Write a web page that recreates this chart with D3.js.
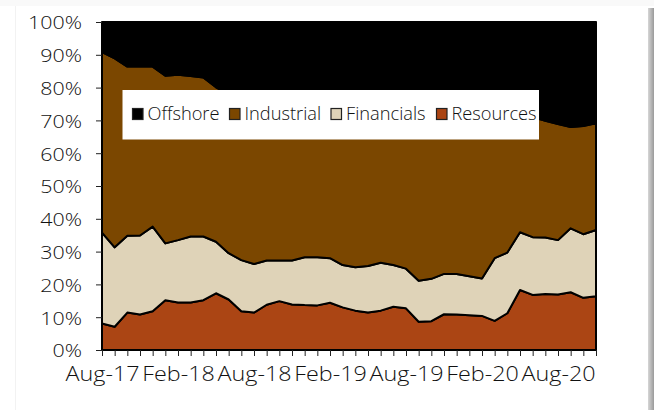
<!DOCTYPE html>
<html><head><meta charset="utf-8">
<script src="https://cdn.jsdelivr.net/npm/d3@7"></script>
<style>
html,body{margin:0;padding:0;background:#fff;}
svg{display:block;}
text{font-family:"Open Sans", "Noto Sans", sans-serif;font-weight:300;fill:#111;}
</style></head>
<body>
<svg id="c" width="654" height="410"></svg>
<script>
const months = ["Aug-17","Sep-17","Oct-17","Nov-17","Dec-17","Jan-18","Feb-18","Mar-18","Apr-18","May-18","Jun-18","Jul-18","Aug-18","Sep-18","Oct-18","Nov-18","Dec-18","Jan-19","Feb-19","Mar-19","Apr-19","May-19","Jun-19","Jul-19","Aug-19","Sep-19","Oct-19","Nov-19","Dec-19","Jan-20","Feb-20","Mar-20","Apr-20","May-20","Jun-20","Jul-20","Aug-20","Sep-20","Oct-20","Nov-20"];
const tickLabels = ["Aug-17","Feb-18","Aug-18","Feb-19","Aug-19","Feb-20","Aug-20"];
const seriesNames = ["Resources","Financials","Industrial","Offshore"];
const legendOrder = ["Offshore","Industrial","Financials","Resources"];
const resources  = [8.1,7.1,11.4,10.8,11.8,15.2,14.5,14.5,15.2,17.3,15.4,11.8,11.4,13.8,14.9,13.9,13.7,13.6,14.4,13.0,12.0,11.4,12.0,13.2,12.7,8.6,8.8,10.9,10.8,10.6,10.4,8.9,11.2,18.3,16.8,17.1,16.9,17.6,15.9,16.4];
const financials = [27.7,24.2,23.4,24.1,25.8,17.3,19.0,20.1,19.4,15.7,14.1,15.6,14.8,13.5,12.4,13.4,14.6,14.7,13.6,12.9,13.2,14.2,14.6,12.7,12.1,12.5,12.9,12.3,12.4,11.9,11.4,19.1,18.5,17.6,17.6,17.2,16.6,19.5,19.4,20.2];
const industrial = [55.0,57.6,51.6,51.5,48.8,51.1,50.4,48.9,48.5,47.1,48.5,49.6,49.8,48.7,47.7,47.7,46.7,45.7,46.0,48.1,47.8,47.4,46.4,47.1,47.2,50.9,50.3,48.8,48.8,49.5,50.2,44.0,42.3,35.6,36.6,35.6,35.4,30.9,33.0,32.5];
const offshore   = [9.2,11.1,13.6,13.6,13.6,16.4,16.1,16.5,16.9,19.9,22.0,23.0,24.0,24.0,25.0,25.0,25.0,26.0,26.0,26.0,27.0,27.0,27.0,27.0,28.0,28.0,28.0,28.0,28.0,28.0,28.0,28.0,28.0,28.5,29.0,30.1,31.1,32.0,31.7,30.9];
const yTicks = [0,0.1,0.2,0.3,0.4,0.5,0.6,0.7,0.8,0.9,1.0];
const colors = {Offshore:"#000000",Industrial:"#7b4700",Financials:"#dfd3b8",Resources:"#ab4514"};

const table = months.map((m,i)=>({month:m,Resources:resources[i],Financials:financials[i],Industrial:industrial[i],Offshore:offshore[i]}));
const stack = d3.stack().keys(seriesNames).offset(d3.stackOffsetExpand);
const layers = stack(table);

const svg = d3.select("#c");
const defs = svg.append("defs");
const g1 = defs.append("linearGradient").attr("id","sh").attr("x1","0").attr("x2","1");
g1.append("stop").attr("offset","0").attr("stop-color","#d6d6d6");
g1.append("stop").attr("offset","1").attr("stop-color","#9a9a9a");
svg.append("rect").attr("x",0).attr("y",0).attr("width",654).attr("height",6).attr("fill","#f9f9f9");
svg.append("rect").attr("x",648).attr("y",8).attr("width",6).attr("height",402).attr("fill","url(#sh)");
svg.append("line").attr("x1",15.5).attr("x2",15.5).attr("y1",6).attr("y2",410).attr("stroke","#f2f2f2");

const L=102, R=596, T=22, B=350;
const x = d3.scalePoint().domain(months).range([L,R]);
const y = d3.scaleLinear().domain([0,1]).range([B,T]);

svg.append("rect").attr("x",L).attr("y",T).attr("width",R-L+0.5).attr("height",B-T).attr("fill","none").attr("stroke","#a0a0a0").attr("stroke-width",1);

const area = d3.area().x(d=>x(d.data.month)).y0(d=>y(d[0])).y1(d=>y(d[1]));
svg.append("g").selectAll("path").data(layers).join("path")
  .attr("d",area).attr("fill",d=>colors[d.key])
  .attr("stroke","#000").attr("stroke-width",2).attr("stroke-linejoin","round");

function stretch(sel, refText, refWidth){
  let nat = null;
  sel.each(function(){ if(this.textContent===refText) nat=this.getComputedTextLength(); });
  if(!nat) return;
  const f = refWidth/nat;
  sel.each(function(){ const w=this.getComputedTextLength(); if(w>0){ d3.select(this).attr("textLength",w*f).attr("lengthAdjust","spacingAndGlyphs"); } });
}

const yAxis = d3.axisLeft(y).tickValues(yTicks).tickFormat(d3.format(".0%")).tickSize(6).tickPadding(14);
const gy = svg.append("g").attr("transform",`translate(${L},0)`).call(yAxis);
gy.select(".domain").attr("stroke","#000").attr("stroke-width",2).attr("d",`M0,${T}V${B}`);
gy.selectAll(".tick line").attr("stroke","#222");
gy.selectAll("text").attr("font-size",19).attr("font-family",null).attr("fill","#111").attr("dy","0.36em");
stretch(gy.selectAll("text"),"100%",54);

const xAxis = d3.axisBottom(x).tickSize(6).tickPadding(10).tickFormat(d=>tickLabels.includes(d)?d:"");
const gx = svg.append("g").attr("transform",`translate(0,${B})`).call(xAxis);
gx.select(".domain").attr("stroke","#000").attr("stroke-width",1.5).attr("d",`M${L},0H${R}`);
gx.selectAll(".tick line").attr("stroke","#222");
gx.selectAll("text").attr("font-size",21).attr("font-family",null).attr("fill","#111").attr("dy","0.72em");
stretch(gx.selectAll("text"),"Aug-17",74);

const lg = svg.append("g");
lg.append("rect").attr("x",122.5).attr("y",90).attr("width",416.5).attr("height",49.5).attr("fill","#fff");
const legX = [132.5,229.5,331,436.5];
legendOrder.forEach((k,i)=>{
  lg.append("rect").attr("x",legX[i]).attr("y",108.5).attr("width",10.5).attr("height",11).attr("fill",colors[k]).attr("stroke","#222").attr("stroke-width",1.2);
  lg.append("text").attr("x",legX[i]+15).attr("y",120).attr("font-size",17.5).attr("class","lt").text(k);
});
stretch(lg.selectAll("text.lt"),"Offshore",72);
</script>
</body></html>
